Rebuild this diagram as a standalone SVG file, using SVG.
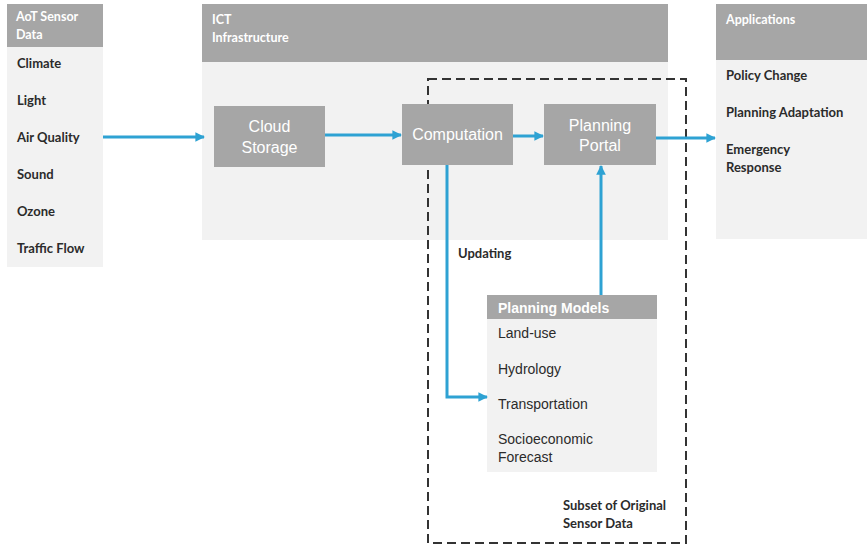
<svg xmlns="http://www.w3.org/2000/svg" width="867" height="548" viewBox="0 0 867 548">
<style>
.hdr{fill:#a6a6a6}
.body{fill:#f2f2f2}
.box{fill:#a6a6a6}
.ht{font-family:Lato,"Open Sans",sans-serif;font-weight:700;font-size:12.5px;fill:#ffffff}
.it{font-family:Lato,"Open Sans",sans-serif;font-weight:700;font-size:13px;fill:#2b2b2b}
.bt{font-family:"Liberation Sans",Arial,sans-serif;font-size:16px;fill:#ffffff;text-anchor:middle}
.mt{font-family:"Liberation Sans",Arial,sans-serif;font-size:14px;fill:#2b2b2b}
.mh{font-family:"Liberation Sans",Arial,sans-serif;font-weight:700;font-size:14px;fill:#ffffff}
.ln{fill:none;stroke:#2ea2d3;stroke-width:3}
.dash{fill:none;stroke:#333;stroke-width:2;stroke-dasharray:9,5}
</style>
<defs>
<marker id="ah" viewBox="0 0 10 10" refX="9" refY="5" markerWidth="3.2" markerHeight="3.2" orient="auto" markerUnits="strokeWidth">
<path d="M0,0 L10,5 L0,10 z" fill="#2ea2d3"/>
</marker>
</defs>
<rect width="867" height="548" fill="#ffffff"/>

<g id="aot">
<rect class="body" x="7" y="47" width="96" height="220"/>
<rect class="hdr" x="7" y="4" width="96" height="43"/>
<text class="ht" x="16" y="21">AoT Sensor</text>
<text class="ht" x="16" y="39">Data</text>
<text class="it" x="17" y="68">Climate</text>
<text class="it" x="17" y="105">Light</text>
<text class="it" x="17" y="142">Air Quality</text>
<text class="it" x="17" y="179">Sound</text>
<text class="it" x="17" y="216">Ozone</text>
<text class="it" x="17" y="253">Traffic Flow</text>
</g>

<g id="ict">
<rect class="body" x="202" y="62" width="466" height="178"/>
<rect class="hdr" x="202" y="4" width="466" height="58"/>
<text class="ht" x="212" y="24">ICT</text>
<text class="ht" x="212" y="42">Infrastructure</text>
</g>

<g id="applications">
<rect class="body" x="716" y="60" width="151" height="179"/>
<rect class="hdr" x="716" y="4" width="151" height="56"/>
<text class="ht" x="726" y="24">Applications</text>
<text class="it" x="726" y="80">Policy Change</text>
<text class="it" x="726" y="117">Planning Adaptation</text>
<text class="it" x="726" y="154">Emergency</text>
<text class="it" x="726" y="172">Response</text>
</g>

<g id="subset">
<rect class="dash" x="428" y="79" width="258" height="464"/>
<text class="it" x="563" y="510">Subset of Original</text>
<text class="it" x="563" y="528">Sensor Data</text>
</g>

<g id="cloud">
<rect class="box" x="214" y="106" width="111" height="61"/>
<text class="bt" x="269.5" y="132">Cloud</text>
<text class="bt" x="269.5" y="153">Storage</text>
</g>

<g id="computation">
<rect class="box" x="402" y="104" width="111" height="61"/>
<text class="bt" x="457.5" y="140">Computation</text>
</g>

<g id="portal">
<rect class="box" x="544" y="104" width="112" height="61"/>
<text class="bt" x="600" y="131">Planning</text>
<text class="bt" x="600" y="151">Portal</text>
</g>

<g id="models">
<rect class="body" x="487" y="319" width="170" height="153"/>
<rect class="hdr" x="487" y="295" width="170" height="24"/>
<text class="mh" x="498" y="313">Planning Models</text>
<text class="mt" x="498" y="338">Land-use</text>
<text class="mt" x="498" y="374">Hydrology</text>
<text class="mt" x="498" y="409">Transportation</text>
<text class="mt" x="498" y="444">Socioeconomic</text>
<text class="mt" x="498" y="462">Forecast</text>
</g>

<g id="connectors">
<line class="ln" x1="103" y1="137" x2="204" y2="137" marker-end="url(#ah)"/>
<line class="ln" x1="325" y1="135" x2="401" y2="135" marker-end="url(#ah)"/>
<line class="ln" x1="513" y1="136" x2="543" y2="136" marker-end="url(#ah)"/>
<line class="ln" x1="656" y1="138" x2="715" y2="138" marker-end="url(#ah)"/>
<polyline class="ln" points="447,165 447,397 487,397" marker-end="url(#ah)"/>
<line class="ln" x1="601" y1="295" x2="601" y2="166" marker-end="url(#ah)"/>
<text class="it" x="458" y="258">Updating</text>
</g>
</svg>
